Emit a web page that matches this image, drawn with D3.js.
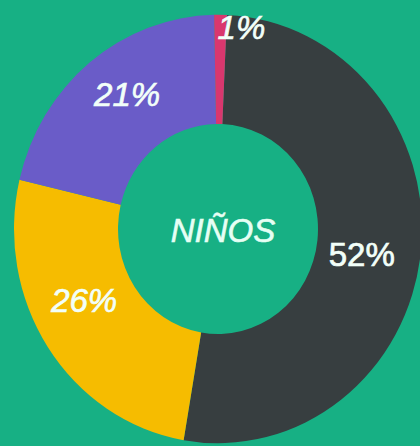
<!DOCTYPE html>
<html><head><meta charset="utf-8">
<script src="https://cdn.jsdelivr.net/npm/d3@7"></script>
<style>html,body{margin:0;padding:0;background:#17b084;}svg{display:block;}</style>
</head><body>
<svg id="c" width="420" height="446"></svg>
<script>
const categories = ["Oscuro", "Amarillo", "Morado", "Rosa"];
const values = [52, 26, 21, 1];
const labels = ["52%", "26%", "21%", "1%"];
const centerLabel = "NIÑOS";

const colors = ["#373e40", "#f6bc00", "#6a5cc8", "#d9376e"];
const W = 420, H = 446, cx = 218, cy = 229, rx = 204, yScale = 1.05, rIn = 100;
const startOffset = 2.5 * Math.PI / 180;
// label layout (angle degrees clockwise from top, radius)
const labelLayout = [
  {a: 100, r: 148, italic: false},
  {a: 241.5, r: 150, italic: true},
  {a: 326.5, r: 161, italic: true},
  {a: 7.2, r: 203, italic: true}
];

const svg = d3.select("#c");
svg.append("rect").attr("width", W).attr("height", H).attr("fill", "#17b084");

const pie = d3.pie().value(d => d).sort(null)
  .startAngle(startOffset).endAngle(startOffset + 2 * Math.PI);
const arc = d3.arc().innerRadius(rIn).outerRadius(rx);
const g = svg.append("g").attr("transform", `translate(${cx},${cy}) scale(1,${yScale})`);
g.selectAll("path").data(pie(values)).join("path")
  .attr("d", arc).attr("fill", (d, i) => colors[i]);

const lg = svg.append("g").attr("transform", `translate(${cx},${cy})`);
lg.selectAll("text").data(labels).join("text")
  .attr("x", (d, i) => labelLayout[i].r * Math.sin(labelLayout[i].a * Math.PI / 180) - 2)
  .attr("y", (d, i) => -labelLayout[i].r * Math.cos(labelLayout[i].a * Math.PI / 180))
  .attr("text-anchor", "middle").attr("dominant-baseline", "central")
  .attr("font-family", "Liberation Sans, Arial, sans-serif")
  .attr("font-size", 33)
  .attr("font-style", (d, i) => labelLayout[i].italic ? "italic" : "normal")
  .attr("fill", "#f2fff9").attr("stroke", "#f2fff9").attr("stroke-width", 0.7)
  .text(d => d);

svg.append("text").attr("x", 223).attr("y", 230)
  .attr("text-anchor", "middle").attr("dominant-baseline", "central")
  .attr("font-family", "Liberation Sans, Arial, sans-serif")
  .attr("font-size", 33).attr("font-style", "italic")
  .attr("fill", "#e6fff4").attr("stroke", "#e6fff4").attr("stroke-width", 0.6)
  .text(centerLabel);
</script>
</body></html>
